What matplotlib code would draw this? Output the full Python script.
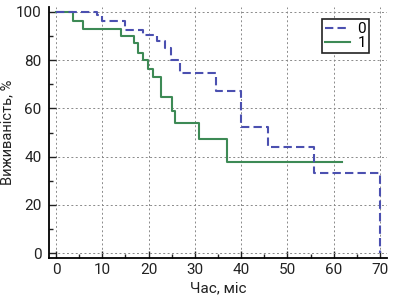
import matplotlib
matplotlib.use('Agg')
import matplotlib.pyplot as plt
from matplotlib.ticker import MultipleLocator

plt.rcParams['font.family'] = ['Roboto', 'DejaVu Sans']

# Криві Каплана-Мейєра
t0 = [0, 8.8, 9.9, 14.9, 18.8, 21.8, 23.6, 24.8, 26.8, 34.6, 39.9, 45.9, 55.8, 70.0]
s0 = [100, 98.5, 96.2, 92.4, 90.6, 87.9, 85.0, 80.2, 74.5, 67.1, 52.3, 44.2, 33.1, 0]

t1 = [0, 3.7, 5.8, 14.0, 16.9, 17.8, 18.9, 19.8, 21.0, 22.6, 25.1, 25.7, 30.9, 36.9, 61.7]
s1 = [100, 96.2, 93.0, 90.0, 87.2, 83.0, 80.0, 76.4, 72.9, 64.6, 58.8, 53.9, 47.3, 37.7, 37.7]

labels = ['0', '1']

fig = plt.figure(figsize=(4.0, 3.04), dpi=100)
ax = fig.add_axes([0.1225, 0.151, 0.845, 0.826])

l1, = ax.step(t1, s1, where='post', color='#3d8a55', lw=1.5, zorder=3)
l0, = ax.step(t0, s0, where='post', color='#4b50b0', lw=1.5, dashes=(4, 2), zorder=4)

ax.set_xlim(-1.5, 71.5)
ax.set_ylim(-2, 102)
ax.xaxis.set_major_locator(MultipleLocator(10))
ax.xaxis.set_minor_locator(MultipleLocator(5))
ax.yaxis.set_major_locator(MultipleLocator(20))
ax.yaxis.set_minor_locator(MultipleLocator(10))
ax.grid(True, which='major', color='#8a8a8a', linestyle=(0, (2, 2.5)), lw=0.7)

for s in ['top', 'right']:
    ax.spines[s].set_visible(False)
ax.spines['left'].set_linewidth(1.3)
ax.spines['bottom'].set_linewidth(1.3)
ax.tick_params(which='both', direction='in', labelsize=11, color='#222222', labelcolor='#222222')
ax.tick_params(axis='y', which='major', pad=5.5)
ax.tick_params(which='major', length=5, width=1)
ax.tick_params(which='minor', length=3, width=1)

ax.set_xlabel('Час, міс', fontsize=11, labelpad=3, color='#222222')
ax.set_ylabel('Виживаність, %', fontsize=10.5, color='#222222')
ax.yaxis.set_label_coords(-0.102, 0.5)

leg = ax.legend([l0, l1], labels, loc='upper right', bbox_to_anchor=(0.947, 0.952),
                fontsize=11, handlelength=1.6, borderpad=0.2, labelspacing=0.0,
                handletextpad=0.5, borderaxespad=0, fancybox=False, framealpha=1)
leg.get_frame().set_edgecolor('#222222')
leg.get_frame().set_linewidth(1.2)

fig.savefig('out.png', dpi=100)
